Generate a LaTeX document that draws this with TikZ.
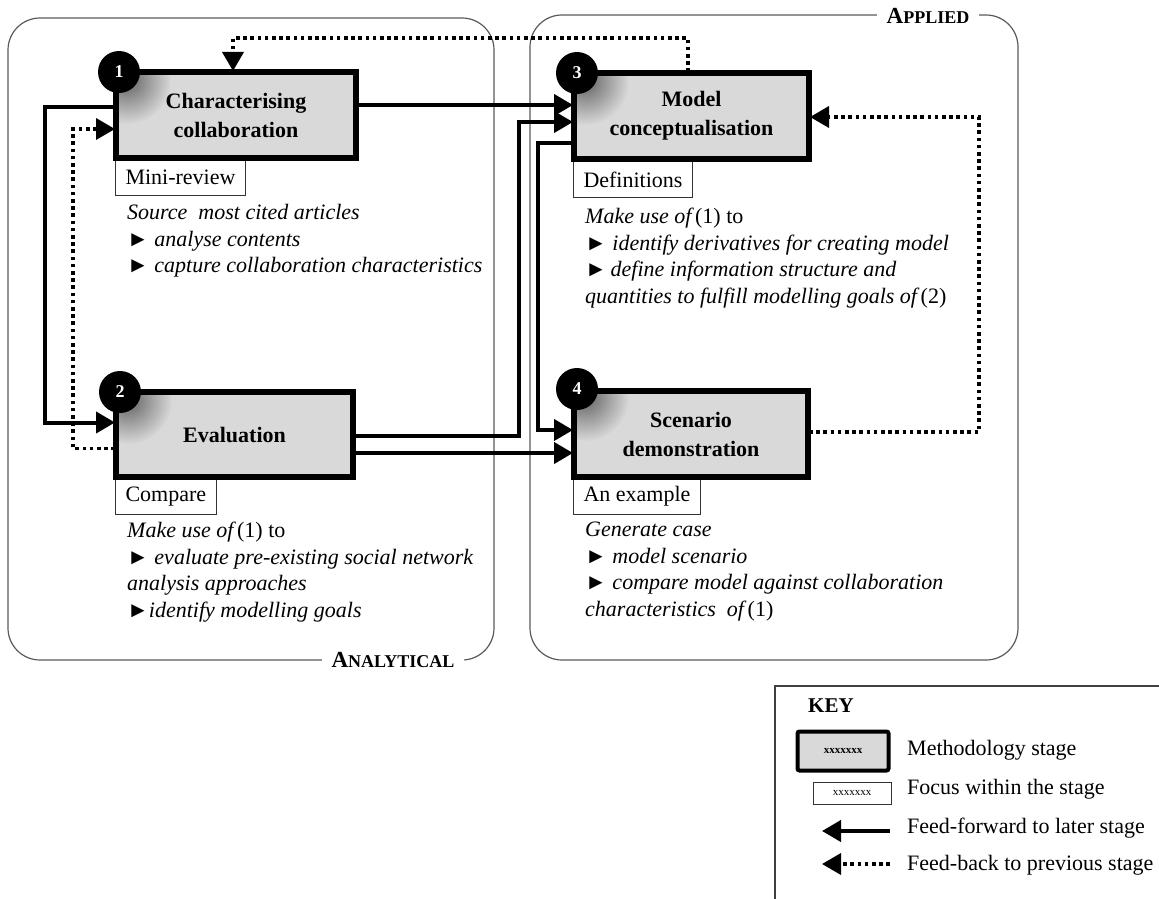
\documentclass[tikz,border=0pt]{standalone}
\usepackage{fontspec}
\setmainfont{Liberation Serif}
\usetikzlibrary{arrows.meta,fadings,calc}

\definecolor{stagegray}{HTML}{D9D9D9}
\definecolor{framegray}{HTML}{5A5A5A}

% soft radial fading used for the shadow under each stage number
\tikzfading[name=softshadow, inner color=transparent!45, outer color=transparent!100]

\tikzset{
  stagebox/.style={draw=black, line width=4pt, fill=stagegray, inner sep=0pt,
    align=center, font=\fontsize{22}{29}\selectfont\bfseries},
  focusbox/.style={draw=black!80, line width=1pt, fill=white, inner xsep=10pt,
    inner ysep=0pt, minimum height=36pt, anchor=north west,
    font=\fontsize{22}{26}\selectfont},
  badge/.style={circle, fill=black, minimum size=42pt, inner sep=0pt, text=white,
    font=\fontsize{18}{18}\selectfont\bfseries},
  badgeshadow/.style={fill=black, path fading=softshadow},
  body/.style={anchor=north west, align=left, inner sep=0pt,
    font=\fontsize{22}{26.6}\selectfont},
  tipstyle/.style={-{Triangle[length=19pt,width=21pt]}},
  ff/.style={line width=4pt, tipstyle},
  fb/.style={line width=3.6pt, dash pattern=on 3.6pt off 3.6pt, tipstyle},
  region/.style={draw=framegray, line width=1.2pt, rounded corners=32pt},
  regionlabel/.style={fill=white, inner xsep=10pt, inner ysep=2pt},
  keytext/.style={anchor=west, inner sep=0pt, font=\fontsize{22}{26}\selectfont},
}

\newcommand{\bullt}{►}
% shadow of a stage number, kept inside its stage box
\newcommand{\numshadow}[2]{%
  \begin{scope}
    \clip (#1.south west) rectangle (#1.north east);
    \fill[badgeshadow] ($(#2.center)+(8pt,-8pt)$) circle (44pt);
  \end{scope}}

\begin{document}
\begin{tikzpicture}[x=1pt, y=-1pt]
  \useasboundingbox (0,0) rectangle (1159,899);

  % the two phases of the methodology
  \draw[region] (8,18) rectangle (494,660);
  \draw[region] (530,15) rectangle (1018,660);
  \node[regionlabel] (lblanalytical) at (393,660)
    {\bfseries{\fontsize{23}{23}\selectfont A}{\fontsize{18}{18}\selectfont NALYTICAL}};
  \node[regionlabel] (lblapplied) at (928,16)
    {\bfseries{\fontsize{23}{23}\selectfont A}{\fontsize{18}{18}\selectfont PPLIED}};

  % stages
  \node[stagebox, minimum width=238pt, minimum height=84pt] (s1) at (236,115)
    {Characterising\\collaboration};
  \node[stagebox, minimum width=235pt, minimum height=83pt] (s2) at (234.5,434.5)
    {Evaluation};
  \node[stagebox, minimum width=233pt, minimum height=84pt] (s3) at (691.5,116)
    {Model\\conceptualisation};
  \node[stagebox, minimum width=232pt, minimum height=84pt] (s4) at (691,434)
    {Scenario\\demonstration};

  % focus of each stage
  \node[focusbox] (f1) at (s1.south west) {Mini-review};
  \node[focusbox] (f2) at (s2.south west) {Compare};
  \node[focusbox] (f3) at ([yshift=-1pt]s3.south west) {Definitions};
  \node[focusbox] (f4) at (s4.south west) {An example};

  % stage numbers with their shadows
  \coordinate (c1) at ([xshift=4pt,yshift=-1pt]s1.north west);
  \coordinate (c2) at ([xshift=5pt,yshift=-1pt]s2.north west);
  \coordinate (c3) at ([xshift=4pt,yshift=-1pt]s3.north west);
  \coordinate (c4) at ([xshift=4pt,yshift=1pt]s4.north west);
  \numshadow{s1}{c1}
  \numshadow{s2}{c2}
  \numshadow{s3}{c3}
  \numshadow{s4}{c4}
  \draw[line width=4pt] (s1.north west) rectangle (s1.south east);
  \draw[line width=4pt] (s2.north west) rectangle (s2.south east);
  \draw[line width=4pt] (s3.north west) rectangle (s3.south east);
  \draw[line width=4pt] (s4.north west) rectangle (s4.south east);
  \node[badge] (n1) at (c1) {1};
  \node[badge] (n2) at (c2) {2};
  \node[badge] (n3) at (c3) {3};
  \node[badge] (n4) at (c4) {4};

  % descriptions
  \node[body] (d1) at (127,204)
    {\textit{Source\ \ most cited articles}\\
     \bullt\ \textit{analyse contents}\\
     \bullt\ \textit{capture collaboration characteristics}};
  \node[body] (d3) at (585,208)
    {\textit{Make use of\,}(1) to\\
     \bullt\ \textit{identify derivatives for creating model}\\
     \bullt\,\textit{define information structure and}\\
     \textit{quantities to fulfill\ modelling goals of\,}(2)};
  \node[body] (d2) at (127,522)
    {\textit{Make use of\,}(1) to\\
     \bullt\ \textit{evaluate pre-existing social network}\\
     \textit{analysis approaches}\\
     \bullt\textit{identify modelling goals}};
  \node[body] (d4) at (585,522)
    {\textit{Generate case}\\
     \bullt\ \textit{model scenario}\\
     \bullt\ \textit{compare model against collaboration}\\
     \textit{characteristics\ \ of\,}(1)};

  % feed-forward connectors
  \draw[ff] ([yshift=10pt]s1.east) -- ([yshift=10pt]s1.east -| s3.west);
  \draw[ff] ([yshift=8pt]s1.west) -- ++(-70pt,0) |- ([yshift=12pt]s2.west);
  \draw[ff] ([yshift=-1.5pt]s2.east) -- ++(165pt,0) |- ([yshift=-6pt]s3.west);
  \draw[ff] ([yshift=-18.5pt]s2.east) -- ([yshift=-18.5pt]s2.east -| s4.west);
  \draw[ff] ([yshift=-27pt]s3.west) -- ++(-35pt,0) |- ([yshift=4pt]s4.west);

  % feed-back connectors
  \draw[fb] ([yshift=-14pt]s2.west) -- ++(-42pt,0) |- ([yshift=-14pt]s1.west);
  \draw[fb] ([xshift=-3.5pt]s3.north) -- ++(0,34pt) -| ([xshift=-3pt]s1.north);
  \draw[fb] ([yshift=2pt]s4.east) -- ++(170pt,0) |- ([yshift=-1pt]s3.east);

  % key
  \draw[draw=black!75, line width=2pt] (775,686) rectangle (1180,920);
  \node[anchor=west, inner sep=0pt, font=\fontsize{21}{21}\selectfont\bfseries]
    (keytitle) at (808,706) {KEY};
  \node[draw=black, line width=4pt, fill=stagegray, minimum width=91pt,
    minimum height=39pt, inner sep=0pt, rounded corners=2pt,
    font=\fontsize{11}{11}\selectfont\bfseries] (ks) at (843,751) {xxxxxxx};
  \node[draw=black!80, line width=1pt, fill=white, minimum width=78pt,
    minimum height=22pt, inner sep=0pt, font=\fontsize{11}{11}\selectfont]
    (kf) at (852,793) {xxxxxxx};
  \coordinate (kffa) at (890,831);
  \coordinate (kffb) at (822,831);
  \coordinate (kfba) at (890,864);
  \coordinate (kfbb) at (822,864);
  \draw[ff] (kffa) -- (kffb);
  \draw[fb] (kfba) -- (kfbb);
  \node[keytext] (kt1) at (907,750) {Methodology stage};
  \node[keytext] (kt2) at (907,789) {Focus within the stage};
  \node[keytext] (kt3) at (907,828) {Feed-forward to later stage};
  \node[keytext] (kt4) at (907,865) {Feed-back to previous stage};
\end{tikzpicture}
\end{document}
